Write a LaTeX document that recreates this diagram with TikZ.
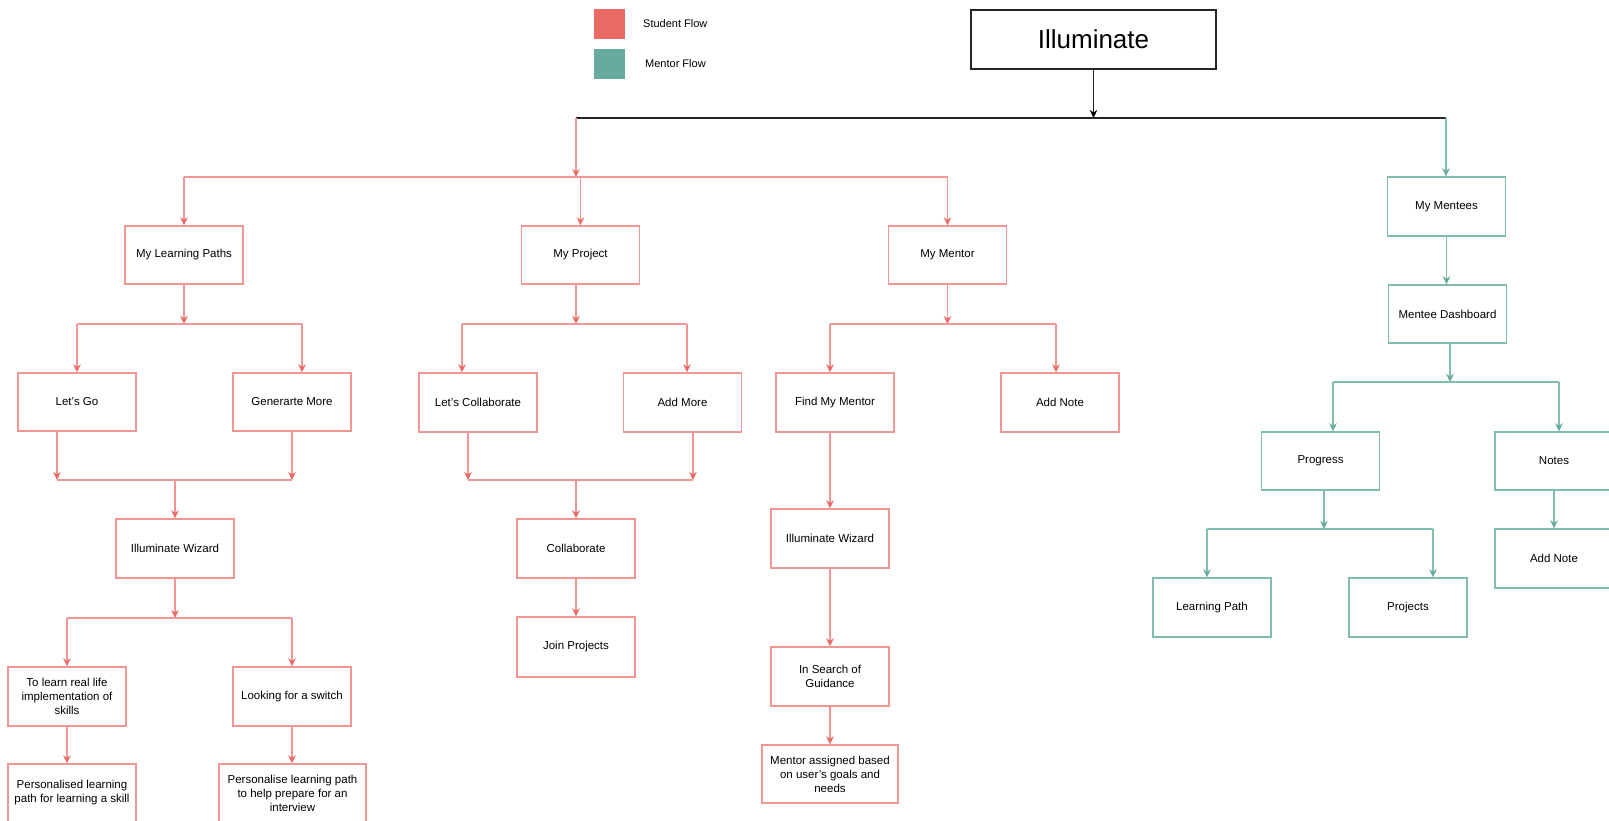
\documentclass[tikz,border=0pt]{standalone}
\usepackage{fontspec}
\setmainfont{Liberation Sans}
\usetikzlibrary{arrows.meta}

\definecolor{sline}{RGB}{242,150,147}
\definecolor{stip}{RGB}{234,107,102}
\definecolor{mline}{RGB}{128,188,176}
\definecolor{mtip}{RGB}{103,171,159}
\definecolor{sfill}{HTML}{EA6B66}
\definecolor{mfill}{HTML}{67AB9F}

\tikzset{
  x=1pt, y=-1pt,
  boxtext/.style={font=\fontsize{11.5}{14}\selectfont},
  sbox/.style={draw=sline, line width=1.4pt, minimum width=118pt, minimum height=58pt,
    inner sep=2pt, align=center, boxtext},
  mbox/.style={sbox, draw=mline},
  sline/.style={draw=sline, line width=1.4pt},
  mline/.style={draw=mline, line width=1.4pt},
  sarrow/.style={sline, -{Stealth[length=8pt,width=7.5pt,inset=2.5pt,color=stip]}},
  marrow/.style={mline, -{Stealth[length=8pt,width=7.5pt,inset=2.5pt,color=mtip]}},
  karrow/.style={draw=black!85, line width=1.2pt, -{Stealth[length=8pt,width=7.5pt,inset=2.5pt,color=black]}},
  legendsq/.style={minimum width=31pt, minimum height=30pt, inner sep=0pt},
  legendtext/.style={anchor=west, inner sep=0pt, font=\fontsize{11}{13}\selectfont}
}

\begin{document}
\begin{tikzpicture}
\fill[white] (0,0) rectangle (1609,821);
\useasboundingbox (0,0) rectangle (1609,821);

% legend
\node[legendsq, fill=sfill] (legS) at (609.5,24.5) {};
\node[legendsq, fill=mfill] (legM) at (609.5,64) {};
\node[legendtext] (legSt) at (643,24) {Student Flow};
\node[legendtext] (legMt) at (645,64) {Mentor Flow};

% root
\node[draw=black!85, line width=1.2pt, minimum width=245pt, minimum height=59pt,
  font=\fontsize{26}{30}\selectfont] (root) at (1093.5,39.5) {Illuminate};

% student flow: first level
\node[sbox] (mlp)    at (184,255)   {My Learning Paths};
\node[sbox] (proj)   at (580.5,255) {My Project};
\node[sbox] (mentor) at (947.5,255) {My Mentor};

% learning paths branch
\node[sbox] (letsgo)  at (77,402)    {Let's Go};
\node[sbox] (genmore) at (292,402)   {Generarte More};
\node[sbox, minimum height=59pt] (wiz1) at (175,548.5) {Illuminate Wizard};
\node[sbox, minimum height=59pt] (tolearn) at (67,696.5) {To learn real life\\implementation of\\skills};
\node[sbox, minimum height=59pt] (switch)  at (292,696.5) {Looking for a switch};
\node[sbox, minimum width=128pt] (perso)    at (72,793)    {Personalised learning\\path for learning a skill};
\node[sbox, minimum width=147pt] (persoint) at (292.5,793) {Personalise learning path\\to help prepare for an\\interview};

% project branch
\node[sbox, minimum height=59pt] (letscol) at (478,402.5)   {Let's Collaborate};
\node[sbox, minimum height=59pt] (addmore) at (682.5,402.5) {Add More};
\node[sbox, minimum height=59pt] (collab)  at (576,548.5)   {Collaborate};
\node[sbox, minimum height=60pt] (joinp)   at (576,647)     {Join Projects};

% mentor branch
\node[sbox, minimum height=59pt] (findm)   at (835,402.5)  {Find My Mentor};
\node[sbox, minimum height=59pt] (addnote) at (1060,402.5) {Add Note};
\node[sbox, minimum height=59pt] (wiz2)    at (830,538.5)  {Illuminate Wizard};
\node[sbox, minimum height=59pt] (search)  at (830,676.5)  {In Search of\\Guidance};
\node[sbox, minimum width=136pt] (assigned) at (830,774)   {Mentor assigned based\\on user's goals and\\needs};

% mentor flow
\node[mbox, minimum height=59pt] (mentees)  at (1446.5,206.5) {My Mentees};
\node[mbox] (dash)     at (1447.5,314)   {Mentee Dashboard};
\node[mbox] (progress) at (1320.5,461)   {Progress};
\node[mbox] (notes)    at (1554,461)     {Notes};
\node[mbox, minimum height=59pt] (addnote2) at (1554,558.5)   {Add Note};
\node[mbox, minimum height=59pt] (lpath)    at (1212,607.5)   {Learning Path};
\node[mbox, minimum height=59pt] (projects) at (1408,607.5)   {Projects};

% bar levels
\coordinate (kbarL) at (576,118);
\coordinate (kbarR) at (1446,118);
\coordinate (sbar)  at (576,177);
\coordinate (lpBar) at (0,324);
\coordinate (lpMerge) at (175,480);
\coordinate (wzBar) at (0,618);
\coordinate (pjBar) at (0,324);
\coordinate (pjMerge) at (576,480);
\coordinate (mnBar) at (0,324);
\coordinate (tdBar) at (0,382);
\coordinate (prBar) at (0,529);

% offset attachment points
\coordinate (genIn)   at ([xshift=10pt]genmore.north);
\coordinate (goOut)   at ([xshift=-20pt]letsgo.south);
\coordinate (projOut) at ([xshift=-4.5pt]proj.south);
\coordinate (colIn)   at ([xshift=-16pt]letscol.north);
\coordinate (colOut)  at ([xshift=-10pt]letscol.south);
\coordinate (amIn)    at ([xshift=4.5pt]addmore.north);
\coordinate (amOut)   at ([xshift=10.5pt]addmore.south);
\coordinate (fmIn)    at ([xshift=-5pt]findm.north);
\coordinate (fmOut)   at ([xshift=-5pt]findm.south);
\coordinate (anIn)    at ([xshift=-4pt]addnote.north);
\coordinate (dashOut) at ([xshift=2.5pt]dash.south);
\coordinate (prIn)    at ([xshift=12.5pt]progress.north);
\coordinate (prOut)   at ([xshift=3.5pt]progress.south);
\coordinate (ntIn)    at ([xshift=5pt]notes.north);
\coordinate (lpIn)    at ([xshift=-5pt]lpath.north);
\coordinate (pjIn)    at ([xshift=25pt]projects.north);

% root connector and top bar
\draw[karrow] (root.south) -- (root.south |- kbarL);
\draw[draw=black!85, line width=1.2pt] (kbarL) -- (kbarR);

% student flow top split
\draw[sarrow] (kbarL) -- (sbar);
\draw[sline] (mlp.north |- sbar) -- (mentor.north |- sbar);
\draw[sarrow] (mlp.north |- sbar) -- (mlp.north);
\draw[sarrow] (proj.north |- sbar) -- (proj.north);
\draw[sarrow] (mentor.north |- sbar) -- (mentor.north);

% learning paths
\draw[sarrow] (mlp.south) -- (mlp.south |- lpBar);
\draw[sline] (letsgo.north |- lpBar) -- (genIn |- lpBar);
\draw[sarrow] (letsgo.north |- lpBar) -- (letsgo.north);
\draw[sarrow] (genIn |- lpBar) -- (genIn);
\draw[sarrow] (goOut) -- (goOut |- lpMerge);
\draw[sarrow] (genmore.south) -- (genmore.south |- lpMerge);
\draw[sline] (goOut |- lpMerge) -- (genmore.south |- lpMerge);
\draw[sarrow] (lpMerge) -- (wiz1.north);
\draw[sarrow] (wiz1.south) -- (wiz1.south |- wzBar);
\draw[sline] (tolearn.north |- wzBar) -- (switch.north |- wzBar);
\draw[sarrow] (tolearn.north |- wzBar) -- (tolearn.north);
\draw[sarrow] (switch.north |- wzBar) -- (switch.north);
\draw[sarrow] (tolearn.south) -- (tolearn.south |- perso.north);
\draw[sarrow] (switch.south) -- (switch.south |- persoint.north);

% project
\draw[sarrow] (projOut) -- (projOut |- pjBar);
\draw[sline] (colIn |- pjBar) -- (amIn |- pjBar);
\draw[sarrow] (colIn |- pjBar) -- (colIn);
\draw[sarrow] (amIn |- pjBar) -- (amIn);
\draw[sarrow] (colOut) -- (colOut |- pjMerge);
\draw[sarrow] (amOut) -- (amOut |- pjMerge);
\draw[sline] (colOut |- pjMerge) -- (amOut |- pjMerge);
\draw[sarrow] (pjMerge) -- (collab.north);
\draw[sarrow] (collab.south) -- (joinp.north);

% mentor
\draw[sarrow] (mentor.south) -- (mentor.south |- mnBar);
\draw[sline] (fmIn |- mnBar) -- (anIn |- mnBar);
\draw[sarrow] (fmIn |- mnBar) -- (fmIn);
\draw[sarrow] (anIn |- mnBar) -- (anIn);
\draw[sarrow] (fmOut) -- (fmOut |- wiz2.north);
\draw[sarrow] (wiz2.south) -- (search.north);
\draw[sarrow] (search.south) -- (assigned.north);

% mentor flow
\draw[marrow] (kbarR) -- (kbarR |- mentees.north);
\draw[marrow] (mentees.south) -- (mentees.south |- dash.north);
\draw[marrow] (dashOut) -- (dashOut |- tdBar);
\draw[mline] (prIn |- tdBar) -- (ntIn |- tdBar);
\draw[marrow] (prIn |- tdBar) -- (prIn);
\draw[marrow] (ntIn |- tdBar) -- (ntIn);
\draw[marrow] (notes.south) -- (addnote2.north);
\draw[marrow] (prOut) -- (prOut |- prBar);
\draw[mline] (lpIn |- prBar) -- (pjIn |- prBar);
\draw[marrow] (lpIn |- prBar) -- (lpIn);
\draw[marrow] (pjIn |- prBar) -- (pjIn);
\end{tikzpicture}
\end{document}
